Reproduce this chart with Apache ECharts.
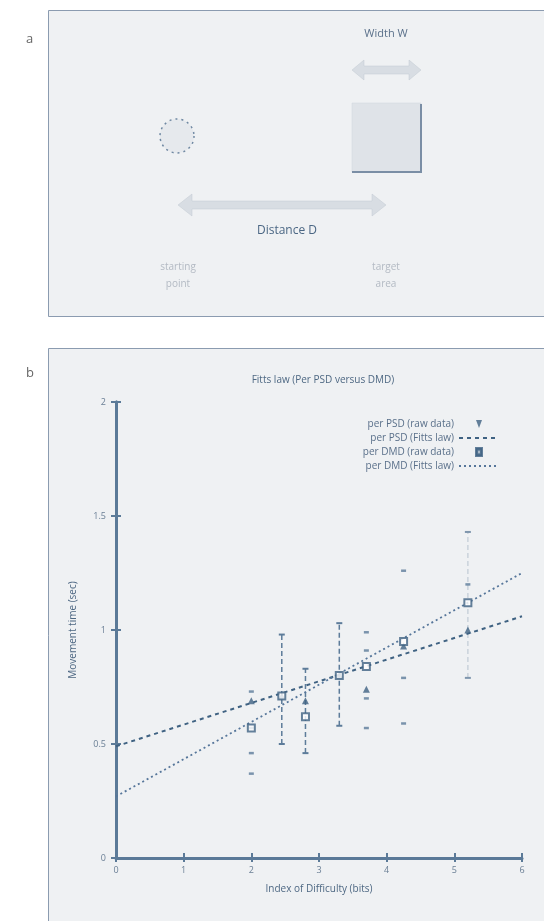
<!DOCTYPE html>
<html><head><meta charset="utf-8">
<script src="https://cdn.jsdelivr.net/npm/echarts@6/dist/echarts.min.js"></script>
<style>html,body{margin:0;padding:0;background:#fff}#c{width:544px;height:921px}</style>
</head><body><div id="c"></div>
<script>
// ---- data ----
const xTicks = [0, 1, 2, 3, 4, 5, 6];
const yTicks = [0, 0.5, 1, 1.5, 2];
const rawX    = [2.0, 2.45, 2.8, 3.3, 3.7, 4.25, 5.2];
const psdMean = [0.69, 0.71, 0.69, 0.80, 0.74, 0.93, 1.00];
const dmdMean = [0.57, 0.71, 0.62, 0.80, 0.84, 0.95, 1.12];
const errX    = [2.45, 2.8, 3.3, 5.2];
const errLow  = [0.50, 0.46, 0.58, 0.79];
const errHigh = [0.98, 0.83, 1.03, 1.43];
const dotX    = [2.0, 2.0, 2.0, 2.0, 3.7, 3.7, 3.7, 3.7, 4.25, 4.25, 4.25, 5.2];
const dotY    = [0.73, 0.57, 0.46, 0.37, 0.99, 0.91, 0.70, 0.57, 1.26, 0.79, 0.59, 1.20];
const fitX    = [0, 6];
const psdFit  = [0.49, 1.06];
const dmdFit  = [0.27, 1.25];
const titleText = "Fitts law (Per PSD versus DMD)";
const legendNames = ["per PSD (raw data)", "per PSD (Fitts law)", "per DMD (raw data)", "per DMD (Fitts law)"];

const ink = '#3f6282';
const axisCol = '#5b7a98';
const chart = echarts.init(document.getElementById('c'), null, {renderer: 'canvas'});

function dArrow(x1, x2, y, half, headH, headL, fill) {
  return {type: 'polygon', shape: {points: [
    [x1, y], [x1 + headL, y - headH], [x1 + headL, y - half], [x2 - headL, y - half],
    [x2 - headL, y - headH], [x2, y], [x2 - headL, y + headH], [x2 - headL, y + half],
    [x1 + headL, y + half], [x1 + headL, y + headH]]},
    style: {fill: fill, stroke: '#c3cad3', lineWidth: 0.5}, z: 1};
}

const graphics = [
  {type: 'rect', shape: {x: 48.5, y: 10.5, width: 500, height: 306}, style: {fill: '#eff1f3', stroke: '#8b9bb0', lineWidth: 1}, z: -10},
  {type: 'rect', shape: {x: 48.5, y: 348.5, width: 500, height: 580}, style: {fill: '#eff1f3', stroke: '#8b9bb0', lineWidth: 1}, z: -10},
  {type: 'text', left: 26, top: 33, style: {text: 'a', fill: '#666', font: '13px "Open Sans"'}},
  {type: 'text', left: 26, top: 367, style: {text: 'b', fill: '#666', font: '13px "Open Sans"'}},
  {type: 'circle', shape: {cx: 177, cy: 136, r: 17}, style: {fill: '#e6e9ed', stroke: '#6f88a2', lineWidth: 1.5, lineDash: [2, 4]}},
  {type: 'rect', shape: {x: 352, y: 103, width: 69, height: 69}, style: {fill: '#dfe3e8', stroke: '#cfd5dc', lineWidth: 0.5}},
  {type: 'polyline', shape: {points: [[421, 104], [421, 172], [352, 172]]}, style: {stroke: '#7a8ea5', lineWidth: 2, fill: null}},
  dArrow(352, 421, 70, 4, 10, 12, '#d8dde3'),
  dArrow(178, 386, 205, 4, 11, 14, '#d8dde3'),
  {type: 'text', x: 386, y: 34, style: {text: 'Width W', fill: '#5a708a', font: '11px "Open Sans"', align: 'center', verticalAlign: 'middle'}},
  {type: 'text', x: 287, y: 231, style: {text: 'Distance D', fill: '#4b6784', font: '12px "Open Sans"', align: 'center', verticalAlign: 'middle'}},
  {type: 'text', x: 178, y: 276, style: {text: 'starting\npoint', fill: '#b3bac3', font: '10px "Open Sans"', align: 'center', verticalAlign: 'middle', lineHeight: 17}},
  {type: 'text', x: 386, y: 276, style: {text: 'target\narea', fill: '#b3bac3', font: '10px "Open Sans"', align: 'center', verticalAlign: 'middle', lineHeight: 17}}
];

const axisLabelFont = {color: '#6a7f95', fontSize: 9, fontFamily: 'Open Sans'};
// legend icons: small marker centred in a 40x8 box (tiny invisible end segments fix the extent)
const triIcon = 'path://M0,4L0.01,4M17,1L23,1L20,7ZM40,4L39.99,4';
const sqIcon  = 'path://M0,4L0.01,4M17,0L23,0L23,7L17,7ZM18.5,1.5L18.5,5.5L21.5,5.5L21.5,1.5ZM40,4L39.99,4';

const option = {
  animation: false,
  backgroundColor: '#ffffff',
  graphic: graphics,
  title: {text: titleText, left: 318, top: 370, textAlign: 'center',
    textStyle: {color: '#4e6883', fontSize: 10, fontWeight: 'normal', fontFamily: 'Open Sans'}},
  legend: {
    orient: 'vertical', right: 39, top: 414, align: 'right', itemGap: 4,
    itemWidth: 40, itemHeight: 8, symbolKeepAspect: false,
    textStyle: {color: '#5a708a', fontSize: 10, fontFamily: 'Open Sans'},
    data: [
      {name: legendNames[0], icon: triIcon},
      {name: legendNames[1]},
      {name: legendNames[2], icon: sqIcon},
      {name: legendNames[3]}
    ]
  },
  grid: [{left: 116, right: 22, top: 402, bottom: 63}],
  xAxis: [
    {type: 'value', min: 0, max: 6, interval: 1, position: 'bottom',
      name: 'Index of Difficulty (bits)', nameLocation: 'middle', nameGap: 26,
      nameTextStyle: {color: '#4e6883', fontSize: 10, fontFamily: 'Open Sans'},
      axisLine: {show: true, lineStyle: {color: axisCol, width: 3}},
      axisTick: {show: true, inside: true, length: 5, lineStyle: {color: axisCol, width: 2}},
      axisLabel: Object.assign({formatter: v => xTicks.includes(v) ? String(v) : ''}, axisLabelFont),
      splitLine: {show: false}},
    {type: 'value', min: 0, max: 6, interval: 1, position: 'top',
      axisLine: {show: true, lineStyle: {color: axisCol, width: 1.5}},
      axisTick: {show: true, inside: true, length: 4, lineStyle: {color: axisCol, width: 2}},
      axisLabel: {show: false}, splitLine: {show: false}}
  ],
  yAxis: [
    {type: 'value', min: 0, max: 2, interval: 0.5, position: 'left',
      name: 'Movement time (sec)', nameLocation: 'middle', nameGap: 38,
      nameTextStyle: {color: '#4e6883', fontSize: 10, fontFamily: 'Open Sans'},
      axisLine: {show: true, lineStyle: {color: axisCol, width: 3}},
      axisTick: {show: true, inside: true, length: 5, lineStyle: {color: axisCol, width: 2}},
      axisLabel: Object.assign({formatter: v => yTicks.includes(v) ? String(v) : '', margin: 10}, axisLabelFont),
      splitLine: {show: false}},
    {type: 'value', min: 0, max: 2, interval: 0.5, position: 'right',
      axisLine: {show: true, lineStyle: {color: axisCol, width: 3}},
      axisTick: {show: true, inside: true, length: 5, lineStyle: {color: axisCol, width: 2}},
      axisLabel: {show: false}, splitLine: {show: false}}
  ],
  series: [
    {name: legendNames[1], type: 'line', data: fitX.map((x, i) => [x, psdFit[i]]),
      symbol: 'none', showSymbol: false, itemStyle: {color: ink, opacity: 0},
      lineStyle: {color: ink, width: 2, type: [4, 4]}, z: 2},
    {name: legendNames[3], type: 'line', data: fitX.map((x, i) => [x, dmdFit[i]]),
      symbol: 'none', showSymbol: false, itemStyle: {color: '#56769a', opacity: 0},
      lineStyle: {color: '#56769a', width: 1.8, type: [2, 3]}, z: 2},
    {name: 'errors', type: 'custom', data: errX.map((x, i) => [x, errLow[i], errHigh[i]]),
      renderItem: function (params, api) {
        const lo = api.coord([api.value(0), api.value(1)]);
        const hi = api.coord([api.value(0), api.value(2)]);
        const c = 3;
        const faint = api.value(0) > 5;
        const col = faint ? '#c9d2dc' : '#5d7c9a';
        const capCol = faint ? '#7f96ad' : col;
        return {type: 'group', children: [
          {type: 'line', shape: {x1: lo[0], y1: lo[1], x2: hi[0], y2: hi[1]}, style: {stroke: col, lineWidth: 1.5, lineDash: [5, 3]}},
          {type: 'line', shape: {x1: lo[0] - c, y1: lo[1], x2: lo[0] + c, y2: lo[1]}, style: {stroke: capCol, lineWidth: 2}},
          {type: 'line', shape: {x1: hi[0] - c, y1: hi[1], x2: hi[0] + c, y2: hi[1]}, style: {stroke: capCol, lineWidth: 2}}
        ]};
      }, z: 1},
    {name: 'points', type: 'scatter', data: dotX.map((x, i) => [x, dotY[i]]),
      symbol: 'rect', symbolSize: [5, 2.5], itemStyle: {color: '#5d7c9a'}, z: 3},
    {name: legendNames[0], type: 'scatter', data: rawX.map((x, i) => [x, psdMean[i]]),
      symbol: 'triangle', symbolSize: 7, itemStyle: {color: ink}, z: 4},
    {name: legendNames[2], type: 'scatter', data: rawX.map((x, i) => [x, dmdMean[i]]),
      symbol: 'emptyRect', symbolSize: 7, itemStyle: {color: ink, borderColor: ink, borderWidth: 1.8}, z: 4}
  ]
};
chart.setOption(option);
</script></body></html>
